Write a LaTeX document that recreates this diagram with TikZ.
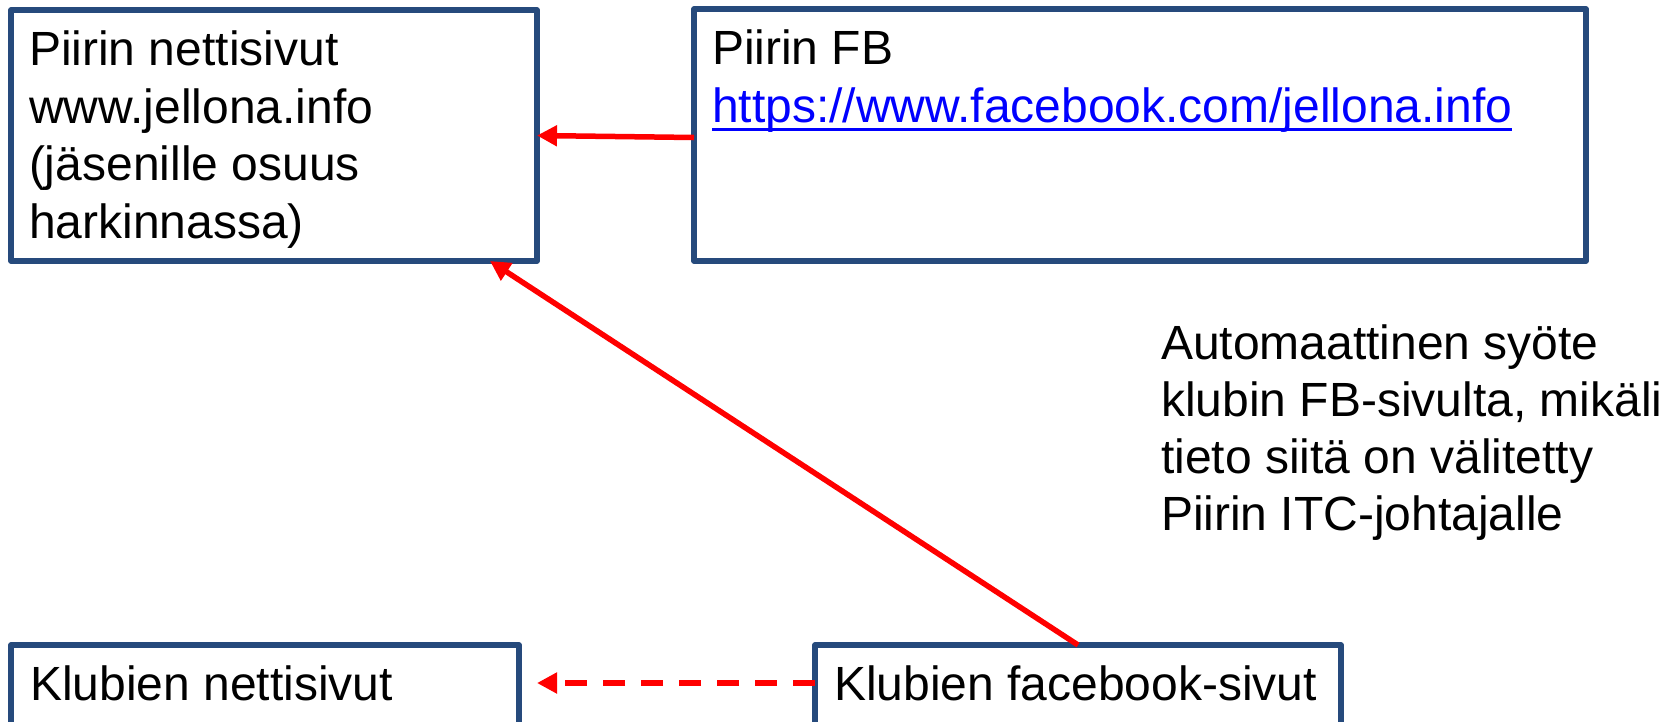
\documentclass[tikz,border=0pt]{standalone}
\usepackage{fontspec}
\setmainfont{Liberation Sans}
\usetikzlibrary{arrows.meta}
\definecolor{boxblue}{HTML}{264A7C}
\definecolor{arrred}{HTML}{FF0000}
\definecolor{linkblue}{HTML}{0000FF}
\begin{document}
\begin{tikzpicture}[x=1pt,y=-1pt,
  box/.style={draw=boxblue, line width=5.5pt, line join=round, inner sep=0pt, outer sep=0pt, rectangle, anchor=north west},
  txt/.style={inner sep=0pt, outer sep=0pt, anchor=base west, font=\fontsize{48}{57.5}\selectfont, align=left},
  arr/.style={draw=arrred, line width=5.5pt, -{Triangle[length=20pt,width=20pt]}}]
\useasboundingbox (0,0) rectangle (1673,721);
\clip (0,0) rectangle (1673,721);
% boxes
\node[box, minimum width=526pt, minimum height=251pt] (b1) at (11,10) {};
\node[box, minimum width=892pt, minimum height=252pt] (b2) at (694,9) {};
\node[box, minimum width=508pt, minimum height=90pt] (b3) at (11,645) {};
\node[box, minimum width=526pt, minimum height=90pt] (b4) at (815,645) {};
% texts (multi-line nodes: base = baseline of last line)
\node[txt] (t1) at (29,238) {Piirin nettisivut\\www.jellona.info\\(jäsenille osuus\\harkinnassa)};
\node[txt] (t2) at (712,64) {Piirin FB};
\node[txt, text=linkblue] (url) at (712,122) {https://www.facebook.com/jellona.info};
\draw[linkblue, line width=3pt] ([yshift=-7pt]url.base west) -- ([yshift=-7pt]url.base east);
\node[txt] (t3) at (30,700) {Klubien nettisivut};
\node[txt] (t4) at (834,700) {Klubien facebook-sivut};
\node[txt, font=\fontsize{48}{57}\selectfont] (note) at (1161,530) {Automaattinen syöte\\klubin FB-sivulta, mikäli\\tieto siitä on välitetty\\Piirin ITC-johtajalle};
% connectors
\draw[arr] ([yshift=-2.5pt]b2.west) -- (b1.east);
\draw[arr] (b4.north) -- ([xshift=-47pt]b1.south east);
\coordinate (dtip) at (537,683);
\draw[arr, dash pattern=on 21.7pt off 16.3pt] (b4.west |- dtip) -- (dtip);
\end{tikzpicture}
\end{document}
